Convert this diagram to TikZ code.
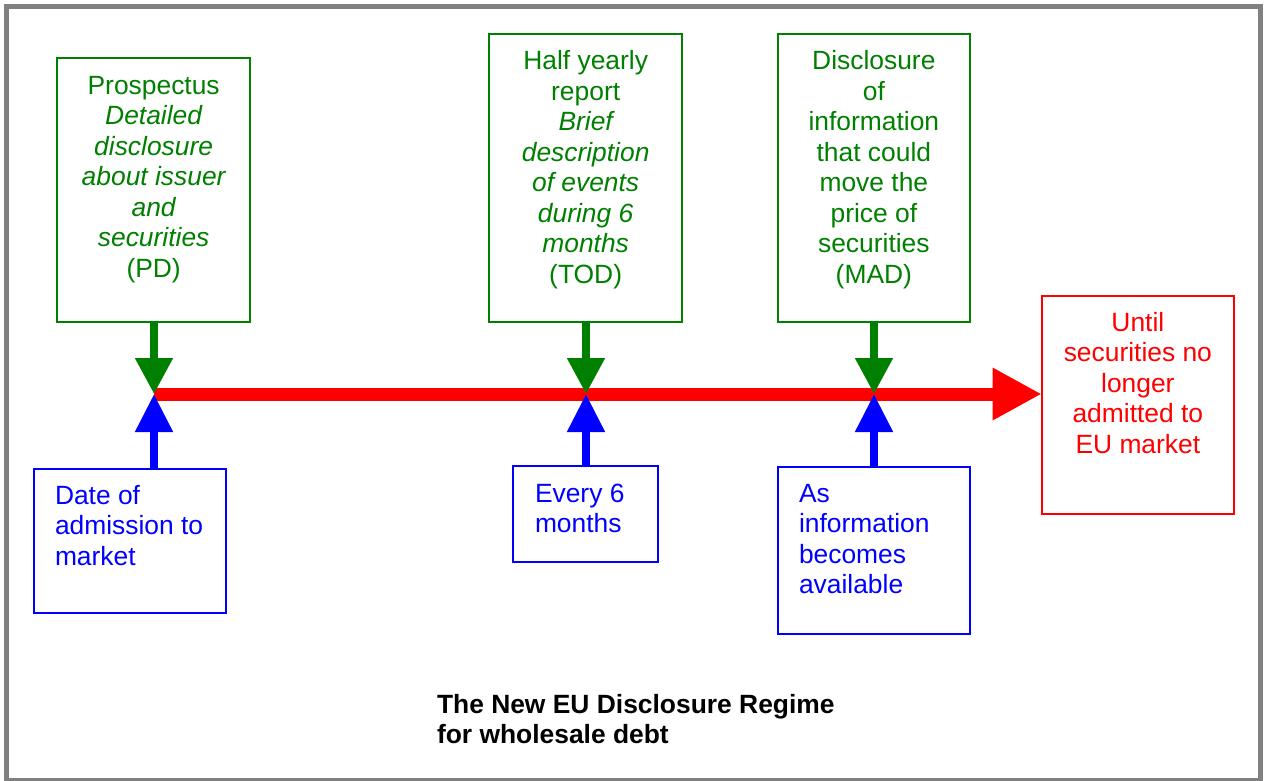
\documentclass[tikz,border=0pt]{standalone}
\usepackage{fontspec}
\setmainfont{Liberation Sans}
\usetikzlibrary{arrows.meta}
\definecolor{dgreen}{RGB}{0,128,0}
\definecolor{pblue}{RGB}{0,0,255}
\definecolor{pred}{RGB}{255,0,0}
\definecolor{fgray}{RGB}{128,128,128}
\newcommand{\tstrut}{\rule{0pt}{20pt}}
\begin{document}
\begin{tikzpicture}[x=1pt,y=-1pt,
  boxbase/.style={draw, line width=2pt, inner sep=0pt, outer sep=0pt},
  gbox/.style={boxbase, draw=dgreen},
  bbox/.style={boxbase, draw=pblue},
  rbox/.style={boxbase, draw=pred},
  txt/.style={inner sep=0pt, outer sep=0pt, font=\fontsize{26.4}{30.5}\selectfont},
  gtxt/.style={txt, text=dgreen, align=center, anchor=north},
  btxt/.style={txt, text=pblue, align=left, anchor=north west},
  rtxt/.style={txt, text=pred, align=center, anchor=north},
  garrow/.style={draw=dgreen, line width=8pt, -{Triangle[length=36pt,width=36pt]}, shorten <=-1pt},
  barrow/.style={draw=pblue, line width=8pt, -{Triangle[length=38pt,width=36pt]}, shorten <=-1pt},
]
\useasboundingbox (0,0) rectangle (1266,780);
\fill[white] (0,0) rectangle (1266,780);
\draw[fgray, line width=5pt] (6.5,6.5) rectangle (1260.7,780);

% green boxes
\node[gbox, minimum width=192.7pt, minimum height=264.3pt] (pd) at (153.65,190.15) {};
\node[gbox, minimum width=192.7pt, minimum height=288.3pt] (tod) at (585.65,178.15) {};
\node[gbox, minimum width=192.3pt, minimum height=288.3pt] (mad) at (873.85,178.15) {};
% blue boxes
\node[bbox, minimum width=192pt, minimum height=144pt] (adm) at (130,541.3) {};
\node[bbox, minimum width=145pt, minimum height=96.3pt] (six) at (585.8,514.15) {};
\node[bbox, minimum width=192.3pt, minimum height=167.6pt] (avail) at (873.85,550.5) {};
% red box
\node[rbox, minimum width=192.3pt, minimum height=218.6pt] (until) at (1137.85,405) {};

% texts
\node[gtxt] (pdt) at (153.65,74) {\tstrut Prospectus\\\itshape Detailed\\\itshape disclosure\\\itshape about issuer\\\itshape and\\\itshape securities\\(PD)};
\node[gtxt] (todt) at (585.65,49.5) {\tstrut Half yearly\\report\\\itshape Brief\\\itshape description\\\itshape of events\\\itshape during 6\\\itshape months\\(TOD)};
\node[gtxt] (madt) at (873.85,49.5) {\tstrut Disclosure\\of\\information\\that could\\move the\\price of\\securities\\(MAD)};
\node[btxt] (admt) at (55,484) {\tstrut Date of\\admission to\\market};
\node[btxt] (sixt) at (535,482) {\tstrut Every 6\\months};
\node[btxt] (availt) at (799,482) {\tstrut As\\information\\becomes\\available};
\node[rtxt] (untilt) at (1137.85,311) {\tstrut Until\\securities no\\longer\\admitted to\\EU market};
\node[txt, font=\fontsize{26.4}{30}\selectfont\bfseries, align=left, anchor=north west] (title) at (437,693.3) {\tstrut The New EU Disclosure Regime\\for wholesale debt};

% timeline points
\coordinate (p1) at (154,394);
\coordinate (p2) at (586,394);
\coordinate (p3) at (874,394);

% red timeline
\draw[draw=pred, line width=13pt, -{Triangle[length=49pt,width=49pt]}] (p1) -- (until.west |- p1);

% green arrows
\draw[garrow] (pd.south -| p1) -- (p1);
\draw[garrow] (tod.south -| p2) -- (p2);
\draw[garrow] (mad.south -| p3) -- (p3);
% blue arrows
\draw[barrow] (adm.north -| p1) -- (p1);
\draw[barrow] (six.north -| p2) -- (p2);
\draw[barrow] (avail.north -| p3) -- (p3);
\end{tikzpicture}
\end{document}
